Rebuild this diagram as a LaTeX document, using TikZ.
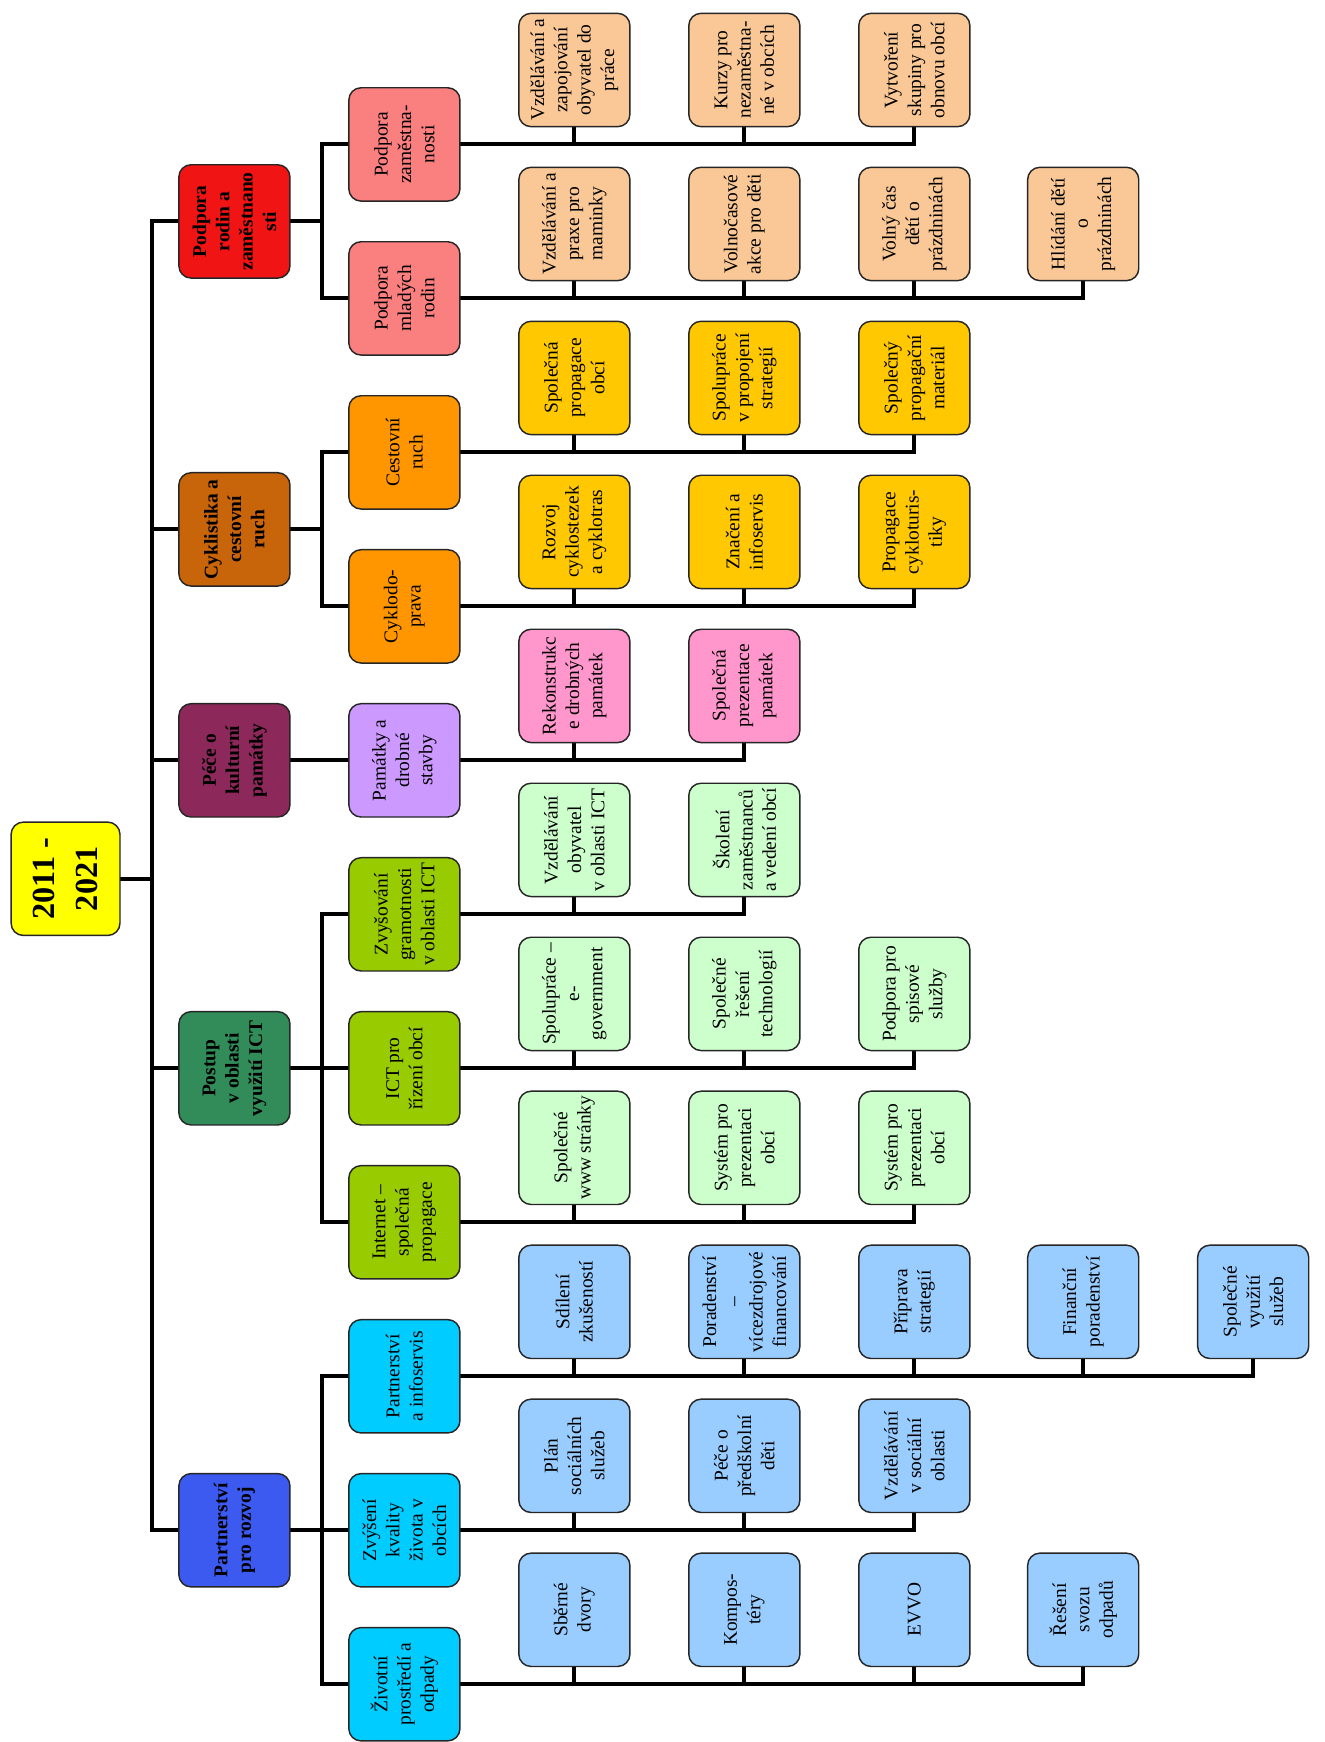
\documentclass[tikz,border=0pt]{standalone}
\usepackage{fontspec}
\setmainfont{Liberation Serif}
\usetikzlibrary{backgrounds,calc}
\definecolor{rootc}{RGB}{255,255,0}
\definecolor{aone}{RGB}{240,20,20}
\definecolor{atwo}{RGB}{250,128,128}
\definecolor{athree}{RGB}{250,200,150}
\definecolor{bone}{RGB}{200,100,10}
\definecolor{btwo}{RGB}{255,150,0}
\definecolor{bthree}{RGB}{255,200,0}
\definecolor{cone}{RGB}{140,40,90}
\definecolor{ctwo}{RGB}{204,153,255}
\definecolor{cthree}{RGB}{255,150,204}
\definecolor{done}{RGB}{50,140,90}
\definecolor{dtwo}{RGB}{153,204,0}
\definecolor{dthree}{RGB}{204,255,204}
\definecolor{eone}{RGB}{60,90,240}
\definecolor{etwo}{RGB}{0,204,255}
\definecolor{ethree}{RGB}{153,204,255}
\begin{document}
\begin{tikzpicture}[x=1pt,y=-1pt,
  bx/.style={draw=black!85, line width=1.3pt, rounded corners=11pt, rotate=90,
    minimum width=102pt, minimum height=100pt, inner sep=1pt, align=center,
    font=\fontsize{17.5}{21}\selectfont},
  lvone/.style={bx, font=\fontsize{17.5}{21}\selectfont\bfseries},
  conn/.style={line width=3.6pt, line cap=rect, line join=miter}]
\useasboundingbox (0,0) rectangle (1192,1568);

\coordinate (T) at (137,0);
\coordinate (B) at (290,0);

% root
\node[bx, fill=rootc, minimum height=98pt, font=\fontsize{29}{38}\selectfont\bfseries] (root) at (59,791) {2011 -\\2021};

% level 1
\node[lvone, fill=aone] (la) at (211,199.3) {Podpora\\rodin a\\zaměstnano\\sti};
\node[lvone, fill=bone] (lb) at (211,476.5) {Cyklistika a\\cestovní\\ruch};
\node[lvone, fill=cone] (lc) at (211,684.4) {Péče o\\kulturní\\památky};
\node[lvone, fill=done] (ld) at (211,961.6) {Postup\\v oblasti\\využití ICT};
\node[lvone, fill=eone] (le) at (211,1377.4) {Partnerství\\pro rozvoj};

% level 2
\node[bx, fill=atwo] (p1) at (364,130) {Podpora\\zaměstna-\\nosti};
\node[bx, fill=atwo] (p2) at (364,268.6) {Podpora\\mladých\\rodin};
\node[bx, fill=btwo] (q1) at (364,407.2) {Cestovní\\ruch};
\node[bx, fill=btwo] (q2) at (364,545.8) {Cyklodo-\\prava};
\node[bx, fill=ctwo] (m1) at (364,684.4) {Památky a\\drobné\\stavby};
\node[bx, fill=dtwo] (i1) at (364,823) {Zvyšování\\gramotnosti\\v oblasti ICT};
\node[bx, fill=dtwo] (i2) at (364,961.6) {ICT pro\\řízení obcí};
\node[bx, fill=dtwo] (i3) at (364,1100.2) {Internet –\\společná\\propagace};
\node[bx, fill=etwo] (s1) at (364,1238.8) {Partnerství\\a infoservis};
\node[bx, fill=etwo] (s2) at (364,1377.4) {Zvýšení\\kvality\\života v\\obcích};
\node[bx, fill=etwo] (s3) at (364,1516) {Životní\\prostředí a\\odpady};

% level 3 : row 1
\node[bx, fill=athree] (p1a) at (517,63) {Vzdělávání a\\zapojování\\obyvatel do\\práce};
\node[bx, fill=athree] (p1b) at (670,63) {Kurzy pro\\nezaměstna-\\né v obcích};
\node[bx, fill=athree] (p1c) at (823,63) {Vytvoření\\skupiny pro\\obnovu obcí};
% row 2
\node[bx, fill=athree] (p2a) at (517,201.6) {Vzdělávání a\\praxe pro\\maminky};
\node[bx, fill=athree] (p2b) at (670,201.6) {Volnočasové\\akce pro děti};
\node[bx, fill=athree] (p2c) at (823,201.6) {Volný čas\\dětí o\\prázdninách};
\node[bx, fill=athree] (p2d) at (975,201.6) {Hlídání dětí\\o\\prázdninách};
% row 3
\node[bx, fill=bthree] (q1a) at (517,340.2) {Společná\\propagace\\obcí};
\node[bx, fill=bthree] (q1b) at (670,340.2) {Spolupráce\\v propojení\\strategií};
\node[bx, fill=bthree] (q1c) at (823,340.2) {Společný\\propagační\\materiál};
% row 4
\node[bx, fill=bthree] (q2a) at (517,478.8) {Rozvoj\\cyklostezek\\a cyklotras};
\node[bx, fill=bthree] (q2b) at (670,478.8) {Značení a\\infoservis};
\node[bx, fill=bthree] (q2c) at (823,478.8) {Propagace\\cykloturis-\\tiky};
% row 5
\node[bx, fill=cthree] (m1a) at (517,617.4) {Rekonstrukc\\e drobných\\památek};
\node[bx, fill=cthree] (m1b) at (670,617.4) {Společná\\prezentace\\památek};
% row 6
\node[bx, fill=dthree] (i1a) at (517,756) {Vzdělávání\\obyvatel\\v oblasti ICT};
\node[bx, fill=dthree] (i1b) at (670,756) {Školení\\zaměstnanců\\a vedení obcí};
% row 7
\node[bx, fill=dthree] (i2a) at (517,894.6) {Spolupráce –\\e-\\government};
\node[bx, fill=dthree] (i2b) at (670,894.6) {Společné\\řešení\\technologií};
\node[bx, fill=dthree] (i2c) at (823,894.6) {Podpora pro\\spisové\\služby};
% row 8
\node[bx, fill=dthree] (i3a) at (517,1033.2) {Společné\\www stránky};
\node[bx, fill=dthree] (i3b) at (670,1033.2) {Systém pro\\prezentaci\\obcí};
\node[bx, fill=dthree] (i3c) at (823,1033.2) {Systém pro\\prezentaci\\obcí};
% row 9
\node[bx, fill=ethree] (s1a) at (517,1171.8) {Sdílení\\zkušeností};
\node[bx, fill=ethree] (s1b) at (670,1171.8) {Poradenství\\–\\vícezdrojové\\financování};
\node[bx, fill=ethree] (s1c) at (823,1171.8) {Příprava\\strategií};
\node[bx, fill=ethree] (s1d) at (975,1171.8) {Finanční\\poradenství};
\node[bx, fill=ethree] (s1e) at (1128,1171.8) {Společné\\využití\\služeb};
% row 10
\node[bx, fill=ethree] (s2a) at (517,1310.4) {Plán\\sociálních\\služeb};
\node[bx, fill=ethree] (s2b) at (670,1310.4) {Péče o\\předškolní\\děti};
\node[bx, fill=ethree] (s2c) at (823,1310.4) {Vzdělávání\\v sociální\\oblasti};
% row 11
\node[bx, fill=ethree] (s3a) at (517,1449) {Sběrné\\dvory};
\node[bx, fill=ethree] (s3b) at (670,1449) {Kompos-\\téry};
\node[bx, fill=ethree] (s3c) at (823,1449) {EVVO};
\node[bx, fill=ethree] (s3d) at (975,1449) {Řešení\\svozu\\odpadů};

\begin{pgfonlayer}{background}
\fill[white] (0,0) rectangle (1192,1568);
% trunk
\draw[conn] (root.south) -- (T |- root);
\draw[conn] (T |- la) -- (T |- le);
\foreach \n in {la,lb,lc,ld,le} \draw[conn] (\n.north) -- (T |- \n);
% level1 -> level2
\draw[conn] (la.south) -- (B |- la);
\draw[conn] (p1.north) -- (B |- p1) -- (B |- p2) -- (p2.north);
\draw[conn] (lb.south) -- (B |- lb);
\draw[conn] (q1.north) -- (B |- q1) -- (B |- q2) -- (q2.north);
\draw[conn] (lc.south) -- (m1.north);
\draw[conn] (ld.south) -- (B |- ld);
\draw[conn] (i1.north) -- (B |- i1) -- (B |- i3) -- (i3.north);
\draw[conn] (i2.north) -- (B |- i2);
\draw[conn] (le.south) -- (B |- le);
\draw[conn] (s1.north) -- (B |- s1) -- (B |- s3) -- (s3.north);
\draw[conn] (s2.north) -- (B |- s2);
% level2 -> level3
\draw[conn] (p1.south) -- (p1c.west |- p1);
\foreach \c in {p1a,p1b,p1c} \draw[conn] (\c.west) -- (\c.west |- p1);
\draw[conn] (p2.south) -- (p2d.west |- p2);
\foreach \c in {p2a,p2b,p2c,p2d} \draw[conn] (\c.west) -- (\c.west |- p2);
\draw[conn] (q1.south) -- (q1c.west |- q1);
\foreach \c in {q1a,q1b,q1c} \draw[conn] (\c.west) -- (\c.west |- q1);
\draw[conn] (q2.south) -- (q2c.west |- q2);
\foreach \c in {q2a,q2b,q2c} \draw[conn] (\c.west) -- (\c.west |- q2);
\draw[conn] (m1.south) -- (m1b.west |- m1);
\foreach \c in {m1a,m1b} \draw[conn] (\c.west) -- (\c.west |- m1);
\draw[conn] (i1.south) -- (i1b.west |- i1);
\foreach \c in {i1a,i1b} \draw[conn] (\c.west) -- (\c.west |- i1);
\draw[conn] (i2.south) -- (i2c.west |- i2);
\foreach \c in {i2a,i2b,i2c} \draw[conn] (\c.west) -- (\c.west |- i2);
\draw[conn] (i3.south) -- (i3c.west |- i3);
\foreach \c in {i3a,i3b,i3c} \draw[conn] (\c.west) -- (\c.west |- i3);
\draw[conn] (s1.south) -- (s1e.west |- s1);
\foreach \c in {s1a,s1b,s1c,s1d,s1e} \draw[conn] (\c.west) -- (\c.west |- s1);
\draw[conn] (s2.south) -- (s2c.west |- s2);
\foreach \c in {s2a,s2b,s2c} \draw[conn] (\c.west) -- (\c.west |- s2);
\draw[conn] (s3.south) -- (s3d.west |- s3);
\foreach \c in {s3a,s3b,s3c,s3d} \draw[conn] (\c.west) -- (\c.west |- s3);
\end{pgfonlayer}
\end{tikzpicture}
\end{document}
